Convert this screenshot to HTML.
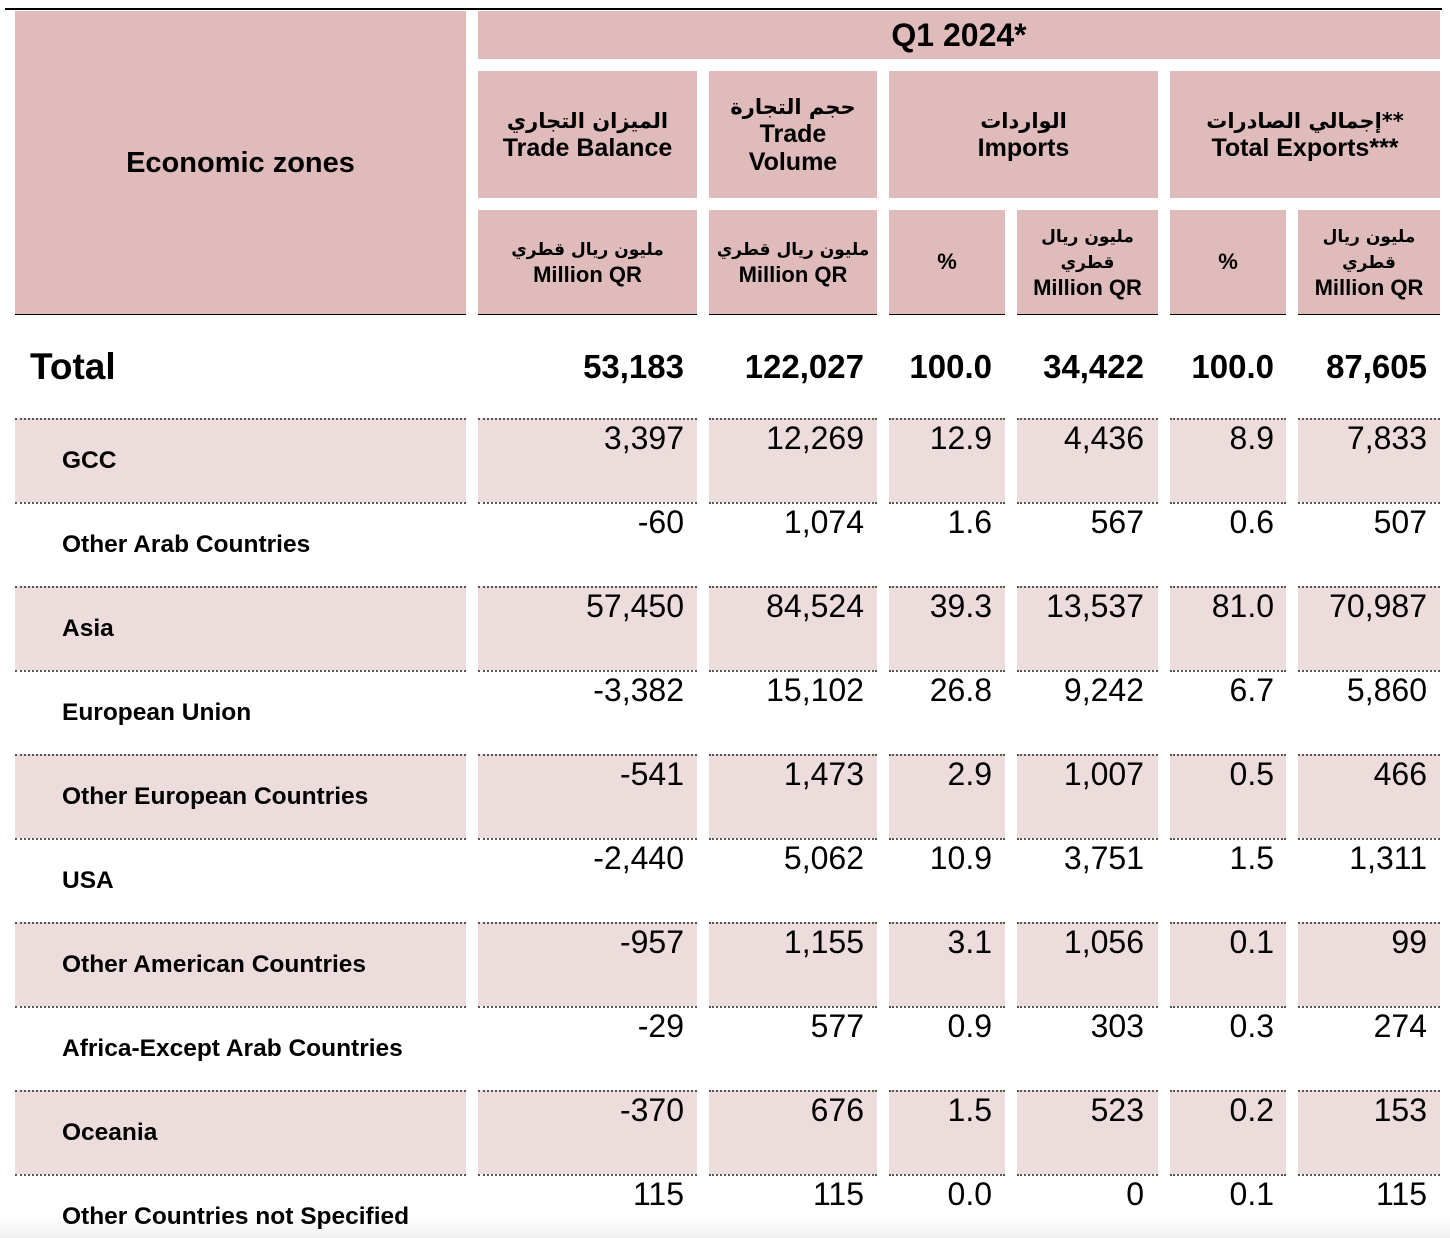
<!DOCTYPE html>
<html><head><meta charset="utf-8"><style>
body{margin:0;width:1450px;height:1238px;background:#fff;position:relative;overflow:hidden;font-family:"Liberation Sans",sans-serif;color:#000}
.a{position:absolute;box-sizing:border-box}
.h{background:#dfbbbb;display:flex;flex-direction:column;align-items:center;justify-content:center;text-align:center;font-weight:bold;font-size:25px;line-height:28px;border-bottom:1.5px solid #000}
.h2{border-bottom:none}
.ar{font-family:"DejaVu Sans",sans-serif;font-size:21px;line-height:26px}
.u{font-size:22px;line-height:24px}
.s{background:#eddcdc}
.d{border-top:2px dotted #555}
.n{position:absolute;text-align:right;font-size:32px;line-height:32px}
.t{font-weight:bold;font-size:33px}
.l{position:absolute;left:62px;font-weight:bold;font-size:24.5px}
</style></head><body>
<div class="a" style="left:5px;top:8px;width:1437px;height:1.5px;background:#000"></div>
<div class="a h" style="left:15px;top:11px;width:451px;height:304px;font-size:29px">Economic zones</div>
<div class="a h h2" style="left:478px;top:11px;width:962px;height:48px;font-size:32px">Q1 2024*</div>
<div class="a h h2" style="left:478px;top:71px;width:219px;height:127px"><span class="ar">الميزان التجاري</span><span>Trade Balance</span></div>
<div class="a h h2" style="left:709px;top:71px;width:168px;height:127px"><span class="ar">حجم التجارة</span><span>Trade<br>Volume</span></div>
<div class="a h h2" style="left:889px;top:71px;width:269px;height:127px"><span class="ar">الواردات</span><span>Imports</span></div>
<div class="a h h2" style="left:1170px;top:71px;width:270px;height:127px"><span class="ar">إجمالي الصادرات**</span><span>Total Exports***</span></div>
<div class="a h" style="left:478px;top:210px;width:219px;height:105px"><span class="ar" style="font-size:17px">مليون ريال قطري</span><span class="u">Million QR</span></div>
<div class="a h" style="left:709px;top:210px;width:168px;height:105px"><span class="ar" style="font-size:17px">مليون ريال قطري</span><span class="u">Million QR</span></div>
<div class="a h" style="left:889px;top:210px;width:116px;height:105px"><span class="u">%</span></div>
<div class="a h" style="left:1017px;top:210px;width:141px;height:105px"><span class="ar" style="font-size:17px">مليون ريال<br>قطري</span><span class="u">Million QR</span></div>
<div class="a h" style="left:1170px;top:210px;width:116px;height:105px"><span class="u">%</span></div>
<div class="a h" style="left:1298px;top:210px;width:142px;height:105px"><span class="ar" style="font-size:17px">مليون ريال<br>قطري</span><span class="u">Million QR</span></div>

<div class="a t" style="left:30px;top:346px;font-size:37px">Total</div>
<div class="n t" style="right:766px;top:351px">53,183</div>
<div class="n t" style="right:586px;top:351px">122,027</div>
<div class="n t" style="right:458px;top:351px">100.0</div>
<div class="n t" style="right:306px;top:351px">34,422</div>
<div class="n t" style="right:176px;top:351px">100.0</div>
<div class="n t" style="right:23px;top:351px">87,605</div>

<div class="a s d" style="left:15px;top:418px;width:451px;height:84px"></div><div class="a s d" style="left:478px;top:418px;width:219px;height:84px"></div><div class="a s d" style="left:709px;top:418px;width:168px;height:84px"></div><div class="a s d" style="left:889px;top:418px;width:116px;height:84px"></div><div class="a s d" style="left:1017px;top:418px;width:141px;height:84px"></div><div class="a s d" style="left:1170px;top:418px;width:116px;height:84px"></div><div class="a s d" style="left:1298px;top:418px;width:142px;height:84px"></div>
<div class="a d" style="left:15px;top:502px;width:451px"></div><div class="a d" style="left:478px;top:502px;width:219px"></div><div class="a d" style="left:709px;top:502px;width:168px"></div><div class="a d" style="left:889px;top:502px;width:116px"></div><div class="a d" style="left:1017px;top:502px;width:141px"></div><div class="a d" style="left:1170px;top:502px;width:116px"></div><div class="a d" style="left:1298px;top:502px;width:142px"></div>
<div class="a s d" style="left:15px;top:586px;width:451px;height:84px"></div><div class="a s d" style="left:478px;top:586px;width:219px;height:84px"></div><div class="a s d" style="left:709px;top:586px;width:168px;height:84px"></div><div class="a s d" style="left:889px;top:586px;width:116px;height:84px"></div><div class="a s d" style="left:1017px;top:586px;width:141px;height:84px"></div><div class="a s d" style="left:1170px;top:586px;width:116px;height:84px"></div><div class="a s d" style="left:1298px;top:586px;width:142px;height:84px"></div>
<div class="a d" style="left:15px;top:670px;width:451px"></div><div class="a d" style="left:478px;top:670px;width:219px"></div><div class="a d" style="left:709px;top:670px;width:168px"></div><div class="a d" style="left:889px;top:670px;width:116px"></div><div class="a d" style="left:1017px;top:670px;width:141px"></div><div class="a d" style="left:1170px;top:670px;width:116px"></div><div class="a d" style="left:1298px;top:670px;width:142px"></div>
<div class="a s d" style="left:15px;top:754px;width:451px;height:84px"></div><div class="a s d" style="left:478px;top:754px;width:219px;height:84px"></div><div class="a s d" style="left:709px;top:754px;width:168px;height:84px"></div><div class="a s d" style="left:889px;top:754px;width:116px;height:84px"></div><div class="a s d" style="left:1017px;top:754px;width:141px;height:84px"></div><div class="a s d" style="left:1170px;top:754px;width:116px;height:84px"></div><div class="a s d" style="left:1298px;top:754px;width:142px;height:84px"></div>
<div class="a d" style="left:15px;top:838px;width:451px"></div><div class="a d" style="left:478px;top:838px;width:219px"></div><div class="a d" style="left:709px;top:838px;width:168px"></div><div class="a d" style="left:889px;top:838px;width:116px"></div><div class="a d" style="left:1017px;top:838px;width:141px"></div><div class="a d" style="left:1170px;top:838px;width:116px"></div><div class="a d" style="left:1298px;top:838px;width:142px"></div>
<div class="a s d" style="left:15px;top:922px;width:451px;height:84px"></div><div class="a s d" style="left:478px;top:922px;width:219px;height:84px"></div><div class="a s d" style="left:709px;top:922px;width:168px;height:84px"></div><div class="a s d" style="left:889px;top:922px;width:116px;height:84px"></div><div class="a s d" style="left:1017px;top:922px;width:141px;height:84px"></div><div class="a s d" style="left:1170px;top:922px;width:116px;height:84px"></div><div class="a s d" style="left:1298px;top:922px;width:142px;height:84px"></div>
<div class="a d" style="left:15px;top:1006px;width:451px"></div><div class="a d" style="left:478px;top:1006px;width:219px"></div><div class="a d" style="left:709px;top:1006px;width:168px"></div><div class="a d" style="left:889px;top:1006px;width:116px"></div><div class="a d" style="left:1017px;top:1006px;width:141px"></div><div class="a d" style="left:1170px;top:1006px;width:116px"></div><div class="a d" style="left:1298px;top:1006px;width:142px"></div>
<div class="a s d" style="left:15px;top:1090px;width:451px;height:84px"></div><div class="a s d" style="left:478px;top:1090px;width:219px;height:84px"></div><div class="a s d" style="left:709px;top:1090px;width:168px;height:84px"></div><div class="a s d" style="left:889px;top:1090px;width:116px;height:84px"></div><div class="a s d" style="left:1017px;top:1090px;width:141px;height:84px"></div><div class="a s d" style="left:1170px;top:1090px;width:116px;height:84px"></div><div class="a s d" style="left:1298px;top:1090px;width:142px;height:84px"></div>
<div class="a d" style="left:15px;top:1174px;width:451px"></div><div class="a d" style="left:478px;top:1174px;width:219px"></div><div class="a d" style="left:709px;top:1174px;width:168px"></div><div class="a d" style="left:889px;top:1174px;width:116px"></div><div class="a d" style="left:1017px;top:1174px;width:141px"></div><div class="a d" style="left:1170px;top:1174px;width:116px"></div><div class="a d" style="left:1298px;top:1174px;width:142px"></div>
<div class="a" style="left:0;top:1215px;width:1450px;height:23px;background:linear-gradient(#fff,#f0f0f0)"></div>

<div class="l" style="top:447px">GCC</div>
<div class="l" style="top:531px">Other Arab Countries</div>
<div class="l" style="top:615px">Asia</div>
<div class="l" style="top:699px">European Union</div>
<div class="l" style="top:783px">Other European Countries</div>
<div class="l" style="top:867px">USA</div>
<div class="l" style="top:951px">Other American Countries</div>
<div class="l" style="top:1035px">Africa-Except Arab Countries</div>
<div class="l" style="top:1119px">Oceania</div>
<div class="l" style="top:1203px">Other Countries not Specified</div>

<div class="n" style="right:766px;top:422px">3,397</div><div class="n" style="right:586px;top:422px">12,269</div><div class="n" style="right:458px;top:422px">12.9</div><div class="n" style="right:306px;top:422px">4,436</div><div class="n" style="right:176px;top:422px">8.9</div><div class="n" style="right:23px;top:422px">7,833</div>
<div class="n" style="right:766px;top:506px">-60</div><div class="n" style="right:586px;top:506px">1,074</div><div class="n" style="right:458px;top:506px">1.6</div><div class="n" style="right:306px;top:506px">567</div><div class="n" style="right:176px;top:506px">0.6</div><div class="n" style="right:23px;top:506px">507</div>
<div class="n" style="right:766px;top:590px">57,450</div><div class="n" style="right:586px;top:590px">84,524</div><div class="n" style="right:458px;top:590px">39.3</div><div class="n" style="right:306px;top:590px">13,537</div><div class="n" style="right:176px;top:590px">81.0</div><div class="n" style="right:23px;top:590px">70,987</div>
<div class="n" style="right:766px;top:674px">-3,382</div><div class="n" style="right:586px;top:674px">15,102</div><div class="n" style="right:458px;top:674px">26.8</div><div class="n" style="right:306px;top:674px">9,242</div><div class="n" style="right:176px;top:674px">6.7</div><div class="n" style="right:23px;top:674px">5,860</div>
<div class="n" style="right:766px;top:758px">-541</div><div class="n" style="right:586px;top:758px">1,473</div><div class="n" style="right:458px;top:758px">2.9</div><div class="n" style="right:306px;top:758px">1,007</div><div class="n" style="right:176px;top:758px">0.5</div><div class="n" style="right:23px;top:758px">466</div>
<div class="n" style="right:766px;top:842px">-2,440</div><div class="n" style="right:586px;top:842px">5,062</div><div class="n" style="right:458px;top:842px">10.9</div><div class="n" style="right:306px;top:842px">3,751</div><div class="n" style="right:176px;top:842px">1.5</div><div class="n" style="right:23px;top:842px">1,311</div>
<div class="n" style="right:766px;top:926px">-957</div><div class="n" style="right:586px;top:926px">1,155</div><div class="n" style="right:458px;top:926px">3.1</div><div class="n" style="right:306px;top:926px">1,056</div><div class="n" style="right:176px;top:926px">0.1</div><div class="n" style="right:23px;top:926px">99</div>
<div class="n" style="right:766px;top:1010px">-29</div><div class="n" style="right:586px;top:1010px">577</div><div class="n" style="right:458px;top:1010px">0.9</div><div class="n" style="right:306px;top:1010px">303</div><div class="n" style="right:176px;top:1010px">0.3</div><div class="n" style="right:23px;top:1010px">274</div>
<div class="n" style="right:766px;top:1094px">-370</div><div class="n" style="right:586px;top:1094px">676</div><div class="n" style="right:458px;top:1094px">1.5</div><div class="n" style="right:306px;top:1094px">523</div><div class="n" style="right:176px;top:1094px">0.2</div><div class="n" style="right:23px;top:1094px">153</div>
<div class="n" style="right:766px;top:1178px">115</div><div class="n" style="right:586px;top:1178px">115</div><div class="n" style="right:458px;top:1178px">0.0</div><div class="n" style="right:306px;top:1178px">0</div><div class="n" style="right:176px;top:1178px">0.1</div><div class="n" style="right:23px;top:1178px">115</div>
</body></html>
